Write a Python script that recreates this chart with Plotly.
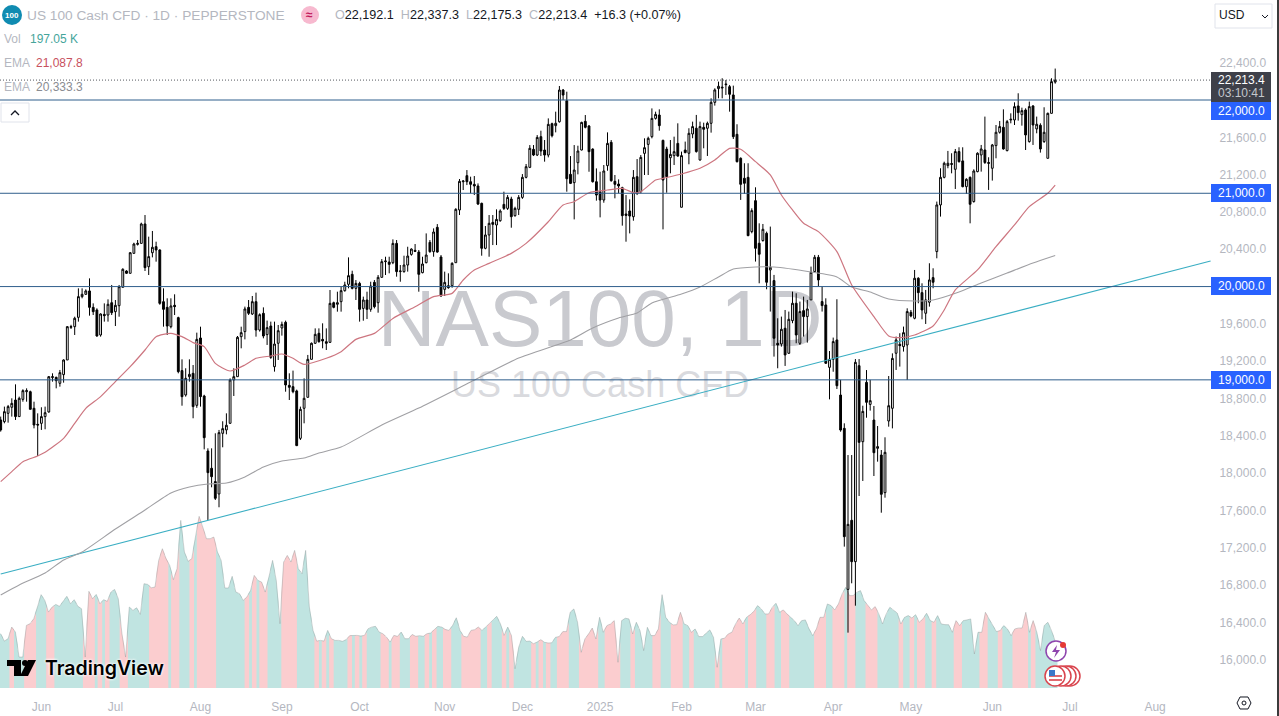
import plotly.graph_objects as go

open_prices = [
18570,18552,18641,18706,18784,18606,18791,18873,18873,18695,
18523,18534,18606,18656,19024,19027,18963,19056,19213,19563,
19570,19670,19892,19917,19953,19777,19749,19481,19702,19695,
19827,19731,19795,19992,20167,20142,20356,20452,20463,20671,
20213,20363,20428,20392,19838,19777,19570,19799,19667,19099,
18838,19034,19070,18727,19449,18827,18237,18052,17909,17777,
18427,18463,18534,18999,19034,19463,19517,19777,19706,19838,
19534,19713,19485,19577,19141,19392,19556,19617,18941,18927,
18881,18373,18695,18813,19220,19392,19499,19434,19409,19402,
19827,19810,
19838,19956,20024,20131,19981,20034,19766,19856,
19756,20045,19827,20099,20267,20263,20256,20463,20160,20160,
20231,20345,20388,20370,20149,20256,20474,20374,20635,20317,
19970,20009,20009,20256,20821,21124,21189,21124,21096,21078,
20892,20410,20553,20688,20660,20706,20881,20838,20938,20760,
20828,20956,21171,21278,21471,21410,21607,21464,21410,21746,
21725,21767,22107,21992,21203,21114,21328,21464,21771,21721,
21474,21124,21017,20928,21296,21546,21128,21099,21060,20778,
20810,20749,21178,21017,21428,21524,21607,21803,21839,21567,
21474,21381,21403,21535,20850,21464,21429,21636,21697,21357,
21707,21697,21750,21975,22122,22128,22172,22143,22054,21632,
21375,21161,21171,20589,20921,20464,20493,20571,20178,20064,
19392,19385,19553,19285,19635,19821,19392,19742,19678,19857,
20160,20314,19839,19803,19134,19220,19428,18837,18480,16754,
17494,17051,19152,18337,18973,18737,18569,18266,18194,17791,
18559,18695,19285,19381,19356,19374,19724,19660,20089,19935,
19714,19832,20096,20375,20875,21171,21297,21318,21257,21447,
21347,21071,21171,20911,21232,21411,21464,21329,21268,21511,
21654,21707,21457,21786,21786,21936,21843,21893,21554,21936,
21690,21729,21554,21375,21857,22192]

high_prices = [
18606,18713,18731,18802,18952,18820,18899,18909,18884,18766,
18641,18706,18713,19041,19070,19034,19106,19220,19577,19590,
19677,19981,19981,19970,20088,19820,19767,19713,19820,19863,
20017,19856,20017,20196,20175,20370,20470,20499,20685,20767,
20535,20596,20481,20400,19981,19874,19874,19917,19677,19220,
19124,19220,19159,19506,19570,18840,18266,18266,18427,18463,
18556,18641,19016,19124,19470,19570,19785,19856,19899,19935,
19713,19777,19635,19624,19624,19588,19624,19635,19070,19099,
18895,18713,19016,19267,19400,19552,19552,19606,19552,19963,
19838,19945,
19999,20052,20313,20170,20070,20052,19892,19945,
20052,20070,20124,20295,20320,20320,20506,20499,20231,20331,
20427,20410,20456,20392,20320,20570,20499,20624,20670,20338,
20160,20142,20260,20840,21153,21142,21249,21178,21185,21106,
20900,20649,20767,20767,20828,20828,21017,20981,20963,20856,
20981,21206,21314,21517,21517,21624,21671,21571,21803,21757,
21875,22150,22118,22089,21399,21517,21510,21767,21839,21732,
21482,21267,21231,21303,21653,21571,21196,21149,21070,20981,
20935,21249,21367,21410,21589,21607,21910,21875,21900,21575,
21499,21571,21607,21750,21447,21554,21697,21768,21840,21768,
21757,21768,22018,22125,22197,22233,22215,22161,22154,21740,
21385,21322,21322,20839,21064,20678,20671,20589,20643,20125,
19660,19678,19749,19732,19946,19928,19839,19892,19857,20214,
20339,20339,20000,19874,19309,19453,19864,19000,18534,18194,
18194,19223,19223,18723,19105,19000,18720,18505,18248,18384,
19041,19284,19464,19500,19571,19767,19749,20178,20100,20035,
19964,20250,20196,20911,21268,21339,21454,21429,21475,21493,
21493,21161,21180,21257,21439,21518,21822,21386,21529,21732,
21775,21900,21786,21857,21975,22072,21918,21911,21983,21945,
21822,21750,21922,21865,22233,22337]

low_prices = [
18445,18534,18541,18606,18570,18606,18766,18766,18684,18480,
18184,18463,18470,18648,18981,18909,18927,18970,19213,19545,
19481,19624,19874,19910,19688,19695,19463,19463,19624,19624,
19695,19577,19677,19992,20135,20142,20356,20440,20463,20167,
20124,20313,20267,19805,19570,19481,19552,19695,19070,18723,
18820,18981,18588,18700,18713,18255,17498,17848,17712,17634,
18277,18416,18534,18827,19034,19338,19434,19695,19695,19463,
19517,19445,19374,19225,19088,19213,19474,18873,18784,18856,
18290,18355,18534,18810,19220,19385,19399,19338,19320,19395,
19767,19731,
19731,19945,19981,19970,19856,19624,19634,19652,
19730,19766,19720,20099,20124,20142,20240,20106,20052,20149,
20160,20331,20370,19945,20142,20249,20363,20320,20363,19892,
19899,19977,19988,20256,20767,21035,21088,21000,20981,20874,
20331,20400,20320,20445,20445,20695,20821,20821,20631,20749,
20767,20940,21160,21270,21399,21399,21399,21339,21385,21599,
21653,21757,22000,21017,21099,20720,21203,21460,21696,21231,
21115,20921,20742,20899,21242,21124,20946,21000,20653,20481,
20570,20706,20981,21000,21196,21196,21589,21790,21671,20613,
21006,21214,21303,21392,20850,21429,21311,21590,21436,21350,
21482,21400,21650,21940,22018,22018,22054,21875,21582,21330,
20929,20993,20540,20571,20268,20035,20482,19971,19732,19249,
19124,19356,19149,19278,19607,19392,19374,19464,19399,19857,
20150,20000,19732,19170,18791,19087,18902,18444,17212,16290,
16819,16579,17755,17916,18594,18670,17969,18123,17576,17737,
18498,18480,19106,19142,19303,18999,19671,19649,19821,19649,
19599,19785,19982,20303,20750,21160,21268,21214,21046,21329,
21064,20993,20678,20900,21225,21232,21315,21036,21136,21375,
21640,21468,21450,21750,21732,21779,21725,21464,21543,21518,
21643,21436,21540,21375,21857,22175]

close_prices = [
18463,18659,18713,18748,18606,18802,18884,18884,18684,18516,
18516,18606,18648,19034,19034,18991,19077,19213,19570,19570,
19660,19892,19917,19953,19777,19731,19470,19706,19688,19810,
19720,19799,19999,20185,20142,20363,20456,20463,20671,20203,
20321,20421,20392,19820,19756,19577,19792,19785,19088,18820,
19016,19059,18713,19434,18820,18380,18005,17962,17730,18434,
18477,18513,18999,19034,19456,19506,19760,19713,19838,19534,
19699,19470,19560,19241,19384,19527,19595,18945,18920,18873,
18295,18684,18802,19220,19392,19488,19409,19417,19392,19820,
19777,19827,
19956,20017,20117,19981,20034,19756,19856,19756,
20006,19784,20099,20267,20274,20238,20463,20160,20167,20231,
20327,20402,20377,20131,20242,20338,20374,20585,20370,19899,
20045,19988,20249,20828,21128,21131,21124,21096,21078,20885,
20410,20553,20678,20667,20720,20810,20838,20956,20749,20838,
20956,21171,21285,21482,21410,21599,21453,21410,21739,21617,
21750,22107,22053,21156,21106,21249,21453,21760,21707,21446,
21124,20981,20928,21239,21535,21135,21096,21078,20760,20763,
20756,21171,21000,21385,21489,21589,21803,21846,21725,21142,
21178,21417,21446,21399,21404,21436,21643,21715,21447,21715,
21686,21750,21975,22108,22147,22136,22165,22061,21607,21339,
21096,21107,20546,20814,20410,20346,20614,20046,20207,19446,
19374,19542,19267,19649,19821,19481,19732,19678,19760,20153,
20314,20071,19796,19178,19220,19410,18937,18462,17319,17451,
17051,19188,18330,18662,18759,18777,18219,18284,17773,18223,
18723,19230,19428,19367,19506,19732,19685,20089,19935,19749,
19857,20071,20046,20875,21171,21322,21322,21311,21447,21339,
21071,21150,20882,21239,21429,21475,21329,21322,21518,21654,
21715,21475,21768,21793,21929,21865,21886,21625,21929,21732,
21740,21475,21654,21857,22197,22213]

volume_k = [
228,197,207,256,235,130,130,263,270,291,
340,392,368,319,340,351,343,365,385,354,
371,343,333,130,406,375,393,354,371,364,
403,414,375,228,130,340,326,337,309,438,
435,421,424,536,585,543,515,455,501,704,
571,532,543,634,721,676,627,627,634,571,
536,420,420,469,403,396,368,382,410,473,
452,445,403,466,536,452,270,529,557,529,
578,501,480,578,340,242,197,200,197,242,
207,200,200,196,203,220,221,221,218,221,
249,256,259,235,228,214,193,221,217,235,
207,207,225,217,220,217,228,231,245,259,
256,246,242,263,295,242,217,214,242,245,
256,242,256,270,284,301,270,221,256,221,
81,172,217,196,197,186,193,
203,192,189,190,213,216,237,237,318,332,
276,150,206,227,252,206,297,234,262,269,
283,108,283,293,290,227,276,241,157,255,
220,220,248,392,297,276,265,266,318,269,
262,234,248,216,216,230,244,213,87,206,
209,227,234,269,294,269,297,308,322,346,
332,311,311,339,356,318,328,311,297,283,
262,283,286,248,220,248,297,297,353,346,
328,353,395,423,388,388,402,409,367,346,
328,342,311,269,311,339,325,315,269,297,
304,294,308,276,290,314,283,276,304,269,
266,266,234,283,262,283,286,290,143,234,
234,318,290,262,237,241,262,248,220,248,
252,252,318,234,283,234,157,262,276,241,197]

# (direction, number of consecutive volume bars): 1 = up colour, -1 = down colour
volume_direction_runs = [
(1,3),(-1,1),(1,3),(-1,3),(1,3),(-1,2),(1,8),(-1,3),(1,1),(-1,1),(1,1),(-1,1),(1,3),(-1,2),(1,6),(-1,5),
(1,1),(-1,2),(1,3),(-1,1),(1,1),(-1,5),(1,8),(-1,1),(1,1),(-1,1),(1,1),(-1,2),(1,4),(-1,4),(1,5),(-1,1),
(1,1),(-1,1),(1,1),(-1,1),(1,4),(-1,1),(1,1),(-1,1),(1,1),(-1,1),(1,4),(-1,2),(1,1),(-1,2),(1,3),(-1,2),
(1,2),(-1,1),(1,1),(-1,1),(1,2),(-1,2),(1,3),(-1,5),(1,2),(-1,1),(1,3),(-1,1),(1,1),(-1,1),(1,5),(-1,1),(1,1),
(-1,1),(1,1),(-1,1),(1,2),(-1,3),(1,3),(-1,5),(1,2),(-1,4),(1,3),(-1,1),(1,5),(-1,2),(1,3),(-1,3),(1,2),(-1,1),
(1,6),(-1,1),(1,1),(-1,6),(1,1),(-1,2),(1,3),(-1,2),(1,2),(-1,2),(1,7),
(-1,3),(1,2),(-1,3),(1,1),(-1,2),(1,3),(-1,3),(1,6),(-1,1),(1,2),(-1,1),(1,1),(-1,2),(1,2),(-1,1),(1,5),
(-1,2),(1,5),(-1,2),(1,3),(-1,1),(1,3),(-1,4),(1,1),(-1,1),(1,6)]

ema50_bars = [0,3,6,10,12,17,20,23,27,31,35,39,42,46,49,52,55,58,62,66,69,73,76,79,82,88,92,96,101,106,112,117,122,125,128,132,138,142,148,152,155,159,164,168,171,173,177,179,184,189,193,197,200,204,208,211,214,217,221,226,230,236,240,243,247,252,255,258,264,269,274,278,283,285]
ema50_vals = [17909,18016,18123,18184,18223,18373,18534,18695,18820,18981,19141,19320,19463,19499,19463,19399,19356,19177,19095,19159,19231,19256,19277,19231,19166,19231,19302,19434,19498,19659,19784,19892,19927,20070,20177,20249,20356,20463,20695,20874,20910,21006,21035,21053,21006,21017,21142,21160,21207,21268,21357,21482,21472,21339,21197,20982,20821,20678,20589,20375,20017,19678,19471,19453,19481,19578,19749,19964,20178,20428,20661,20857,21000,21088]

ema200_bars = [0,5,12,17,22,31,39,46,51,56,61,66,71,76,82,86,92,103,113,127,140,154,160,167,172,176,184,189,194,198,204,209,219,226,230,235,240,247,252,259,265,272,279,285]
ema200_vals = [16694,16801,16929,17069,17155,17401,17605,17787,17851,17884,17894,17959,18066,18130,18162,18216,18280,18516,18698,18977,19234,19427,19556,19663,19717,19824,19920,19995,20103,20188,20210,20210,20156,20103,19995,19942,19867,19845,19856,19942,20038,20145,20253,20333]

trend_bars = [0, 327]
trend_vals = [16919, 20274]

level_prices = [22000, 21000, 20000, 19000]
last_price = 22213.4

price_ticks = [22400,21600,21200,20800,20400,19600,19200,18800,18400,18000,17600,17200,16800,16400,16000]
month_ticks = [11,31,54,76,97,120,141,162,184,204,225,246,268,289,312]
month_labels = ["Jun","Jul","Aug","Sep","Oct","Nov","Dec","2025","Feb","Mar","Apr","May","Jun","Jul","Aug"]

# ---------- page geometry ----------
W, H = 1279, 716
PW, PH = 1211, 688
X_PER_BAR = 3.70
X_RANGE = [-0.7 / X_PER_BAR, (PW - 0.7) / X_PER_BAR]
PRICE_PER_PX = 10.72
Y_RANGE = [22000 - (PH - 100) * PRICE_PER_PX, 22000 + 100 * PRICE_PER_PX]
VOL_TOP = PH * 4.2


def px(x):
    return x / PW


def py(y):
    return 1 - y / PH


GREY = "#b4b7bf"
UP_FILL = "#c0e4e1"
DOWN_FILL = "#fbcdcf"
BLUE = "#2962ff"
LEVEL = "#2f5e8c"
FONT = "Liberation Sans"

bars = list(range(len(open_prices)))
n = len(volume_k)
vol_scale = (len(bars) - 1) / (n - 1)
vol_x = [i * vol_scale for i in range(n)]
vol_dirs = []
for d, c in volume_direction_runs:
    vol_dirs += [d] * c
vol_dirs = (vol_dirs + [1] * n)[:n]

poly = {1: ([], []), -1: ([], [])}
half = vol_scale / 2 + 0.12
for i, v in enumerate(volume_k):
    left = (v + volume_k[i - 1]) / 2 if i else v
    right = (v + volume_k[i + 1]) / 2 if i < n - 1 else v
    xs, ys = poly[vol_dirs[i]]
    xc = vol_x[i]
    xs += [xc - half, xc, xc + half, xc + half, xc - half, xc - half, None]
    ys += [left, v, right, 0, 0, left, None]

fig = go.Figure()
for d, color in ((1, UP_FILL), (-1, DOWN_FILL)):
    fig.add_trace(go.Scatter(x=poly[d][0], y=poly[d][1], mode="lines", fill="toself",
                             fillcolor=color, line=dict(width=0, color=color), hoverinfo="skip",
                             xaxis="x", yaxis="y"))
fig.add_trace(go.Scatter(x=vol_x, y=volume_k, mode="lines", line=dict(color="rgba(140,150,150,0.4)", width=1),
                         hoverinfo="skip", xaxis="x", yaxis="y"))
# watermark sits on the lower axes so the candles are drawn over it
fig.add_trace(go.Scatter(x=[162], y=[1520], mode="text", text=["NAS100, 1D"],
                         textfont=dict(family=FONT, size=80, color="#c9cacf"), textposition="middle center",
                         hoverinfo="skip", xaxis="x", yaxis="y"))
fig.add_trace(go.Scatter(x=[162], y=[1258], mode="text", text=["US 100 Cash CFD"],
                         textfont=dict(family=FONT, size=36, color="#d9dade"), textposition="middle center",
                         hoverinfo="skip", xaxis="x", yaxis="y"))

fig.add_trace(go.Scatter(x=trend_bars, y=trend_vals, mode="lines", line=dict(color="#3aaec3", width=1.1),
                         hoverinfo="skip", xaxis="x2", yaxis="y2"))
fig.add_trace(go.Scatter(x=ema200_bars, y=ema200_vals, mode="lines", line=dict(color="#a0a0a4", width=1.1, shape="spline", smoothing=0.6),
                         hoverinfo="skip", xaxis="x2", yaxis="y2"))
fig.add_trace(go.Scatter(x=ema50_bars, y=ema50_vals, mode="lines", line=dict(color="#cd7680", width=1.2, shape="spline", smoothing=0.6),
                         hoverinfo="skip", xaxis="x2", yaxis="y2"))
fig.add_trace(go.Candlestick(x=bars, open=open_prices, high=high_prices, low=low_prices, close=close_prices,
                             increasing=dict(line=dict(color="#000000", width=1), fillcolor="#ffffff"),
                             decreasing=dict(line=dict(color="#000000", width=1), fillcolor="#000000"),
                             whiskerwidth=0, hoverinfo="skip", xaxis="x2", yaxis="y2"))

shapes = []
for lv in level_prices:
    shapes.append(dict(type="line", xref="paper", yref="y2", x0=0, x1=1, y0=lv, y1=lv,
                       line=dict(color=LEVEL, width=1)))
shapes.append(dict(type="line", xref="paper", yref="y2", x0=0, x1=1, y0=last_price, y1=last_price,
                   line=dict(color="#55585f", width=1, dash="1px,2px")))


def rect(x0, y0, x1, y1, fill, line=None, lw=1):
    shapes.append(dict(type="rect", xref="paper", yref="paper", x0=px(x0), x1=px(x1), y0=py(y1), y1=py(y0),
                       fillcolor=fill, line=dict(color=line or fill, width=lw if line else 0)))


def circle(cx, cy, r, fill, line=None, lw=1):
    shapes.append(dict(type="circle", xref="paper", yref="paper", x0=px(cx - r), x1=px(cx + r), y0=py(cy + r), y1=py(cy - r),
                       fillcolor=fill, line=dict(color=line or fill, width=lw if line else 0)))


def path(points, fill=None, line=None, lw=1, close=True):
    d = "M " + " L ".join(f"{px(a):.5f} {py(b):.5f}" for a, b in points) + (" Z" if close else "")
    shapes.append(dict(type="path", xref="paper", yref="paper", path=d,
                       fillcolor=fill or "rgba(0,0,0,0)", line=dict(color=line or "rgba(0,0,0,0)", width=lw if line else 0)))


anns = []


def text(x, y, t, size=12, color=GREY, anchor="left"):
    shift = -2 if anchor == "left" else 0
    anns.append(dict(xref="paper", yref="paper", x=px(x + shift), y=py(y), text=t, showarrow=False, xanchor=anchor, yanchor="middle",
                     font=dict(family=FONT, size=size, color=color)))


# price tags
for lv_y, label in ((111, "22,000.0"), (193, "21,000.0"), (286, "20,000.0"), (380, "19,000.0")):
    rect(1211, lv_y - 9, 1271, lv_y + 9, BLUE)
    text(1241, lv_y, label, color="#ffffff", anchor="center")
rect(1211, 72, 1271, 102, "#3e4049")
text(1241, 80, "22,213.4", color="#ffffff", anchor="center")
text(1241, 93, "03:10:41", color="#c5c7cc", anchor="center")

# header
circle(12, 15, 10, "#0f8bb1")
text(12, 15, "<b>100</b>", size=8, color="#ffffff", anchor="center")
text(27, 15, "US 100 Cash CFD · 1D · PEPPERSTONE", size=13.7, color=GREY)
circle(310, 15, 9, "#f7b9cf")
text(310, 15, "<b>≈</b>", size=12, color="#c2185b", anchor="center")
ohlc_head = ('<span style="color:#b4b7bf">O</span>22,192.1  <span style="color:#b4b7bf">H</span>22,337.3  '
             '<span style="color:#b4b7bf">L</span>22,175.3  <span style="color:#b4b7bf">C</span>22,213.4  +16.3 (+0.07%)')
text(335, 15, ohlc_head, size=12.6, color="#131722")
text(4, 39, "Vol", color=GREY)
text(30, 39, "197.05 K", color="#45a59b")
text(4, 63, "EMA", color=GREY)
text(36, 63, "21,087.8", color="#c8505e")
text(4, 87, "EMA", color=GREY)
text(36, 87, "20,333.3", color="#8a8c92")

# collapse button and currency button
rect(1, 103, 29, 122, "#ffffff", "#e0e3eb")
path([(11, 115), (15, 111), (19, 115)], line="#131722", lw=1.3, close=False)
rect(1215, 4, 1272, 28, "#ffffff", "#e0e3eb")
text(1219, 15, "USD", size=12, color="#131722")
path([(1262, 15), (1265, 18), (1268, 15)], line="#131722", lw=1, close=False)

# TradingView logo
path([(7, 660), (21, 660), (21, 676), (14, 676), (14, 666), (7, 666)], fill="#000000")
circle(25, 663, 3, "#000000")
path([(28, 660), (36, 660), (28, 676), (20, 676)], fill="#000000")
anns.append(dict(xref="paper", yref="paper", x=px(43), y=py(668), text="TradingView", showarrow=False, xanchor="left",
                 yanchor="middle", font=dict(family="Inter", size=19.5, color="#000000", weight=600,
                                             shadow="0 0 3px #ffffff, 0 0 3px #ffffff")))

# event markers
circle(1056, 651, 10, "#ffffff", "#8e44ad", 1.5)
path([(1057, 645), (1052, 652), (1056, 652), (1054, 658), (1060, 650), (1056, 650)], fill="#8e44ad")
circle(1063, 645, 3, "#e53935")
for cx in (1070, 1066, 1061):
    circle(cx, 676, 10, "#ffffff", "#d9444d", 1.5)
circle(1055, 676, 10, "#ffffff", "#d9444d", 1.5)
rect(1049, 675, 1062, 677, "#e06a70")
rect(1049, 679, 1062, 681, "#e06a70")
rect(1049, 670, 1055, 676, "#3b78c9")

# settings glyph and window edge
path([(1240, 697), (1248, 697), (1251, 703), (1248, 709), (1240, 709), (1237, 703)], line="#131722", lw=1)
circle(1244, 703, 2, "#ffffff", "#131722", 1)
rect(1277, 0, 1279, 716, "#3b3b3b")

axis_font = dict(family=FONT, size=12, color=GREY)
fig.update_layout(
    width=W, height=H, autosize=False, margin=dict(l=0, r=W - PW, t=0, b=H - PH),
    paper_bgcolor="#ffffff", plot_bgcolor="#ffffff", showlegend=False, hovermode=False,
    xaxis=dict(range=X_RANGE, tickmode="array", tickvals=month_ticks, ticktext=month_labels, showgrid=False,
               zeroline=False, showline=False, ticks="outside", ticklen=8, tickcolor="rgba(0,0,0,0)",
               tickfont=axis_font, rangeslider=dict(visible=False), fixedrange=True),
    yaxis=dict(range=[0, VOL_TOP], visible=False, fixedrange=True),
    xaxis2=dict(range=X_RANGE, overlaying="x", anchor="y2", visible=False, rangeslider=dict(visible=False), fixedrange=True),
    yaxis2=dict(range=Y_RANGE, overlaying="y", anchor="x2", side="right", tickmode="array", tickvals=price_ticks,
                tickformat=",.1f", showgrid=False, zeroline=False, showline=False, ticks="outside", ticklen=5,
                tickcolor="rgba(0,0,0,0)", tickfont=axis_font, fixedrange=True),
    shapes=shapes, annotations=anns,
)

fig.write_html("out.html", config={"displayModeBar": False},
               post_script="document.body.style.margin='0';document.body.style.overflow='hidden';")
